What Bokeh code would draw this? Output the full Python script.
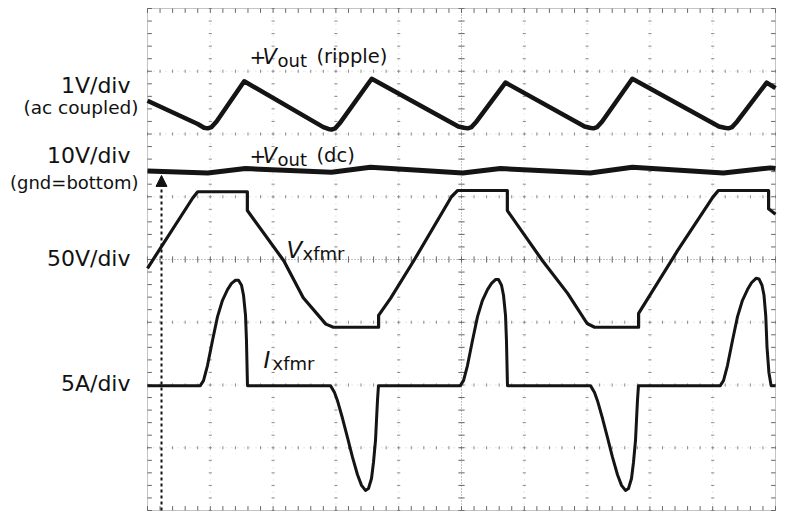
import numpy as np
from bokeh.plotting import figure
from bokeh.models import Label, Arrow, NormalHead
from bokeh.embed import file_html
from bokeh.resources import INLINE

# ---- trace data (time in divisions, amplitude in divisions; 10 x 8 graticule) ----
ripple_t = [0.00, 0.80, 0.90, 0.96, 1.02, 1.10, 1.54, 2.80, 2.88, 2.93, 2.99, 3.06, 3.57,
            4.95, 5.04, 5.10, 5.16, 5.24, 5.70, 6.96, 7.04, 7.10, 7.16, 7.24, 7.72,
            9.10, 9.19, 9.25, 9.31, 9.39, 9.86, 10.00]
ripple_v = [6.53, 6.16, 6.10, 6.09, 6.11, 6.20, 6.84, 6.11, 6.08, 6.07, 6.09, 6.17, 6.88,
            6.12, 6.10, 6.09, 6.11, 6.20, 6.82, 6.12, 6.10, 6.09, 6.11, 6.20, 6.88,
            6.12, 6.10, 6.09, 6.11, 6.20, 6.82, 6.73]

vdc_t = [0.00, 0.96, 1.56, 2.93, 3.55, 5.02, 5.62, 7.05, 7.72, 9.17, 9.92, 10.00]
vdc_v = [5.41, 5.38, 5.45, 5.39, 5.47, 5.38, 5.45, 5.38, 5.47, 5.38, 5.46, 5.45]

vx_t = [0.00, 0.72, 0.80, 1.59, 1.59, 2.17, 2.48, 2.84, 2.96, 3.68, 3.68, 3.87, 4.24, 4.84, 4.94,
        5.73, 5.73, 6.29, 6.69, 7.00, 7.12, 7.82, 7.82, 8.44, 9.00, 9.09, 9.89, 9.89, 10.00]
vx_v = [3.86, 4.98, 5.08, 5.08, 4.78, 3.98, 3.39, 2.97, 2.92, 2.92, 3.11, 3.38, 3.98, 5.00, 5.10,
        5.10, 4.78, 3.98, 3.46, 2.98, 2.92, 2.92, 3.14, 4.14, 4.99, 5.10, 5.10, 4.81, 4.72]

ix_t = [0.00, 0.84, 0.892, 0.955, 1.035, 1.115, 1.194, 1.274, 1.338, 1.401, 1.449, 1.497,
        1.529, 1.561, 1.576, 1.592,
        2.914, 2.978, 3.025, 3.105, 3.185, 3.264, 3.344, 3.408, 3.471, 3.519, 3.567,
        3.599, 3.631, 3.646, 3.662, 3.678,
        4.98, 5.032, 5.095, 5.175, 5.255, 5.334, 5.414, 5.478, 5.541, 5.589, 5.637,
        5.669, 5.701, 5.716, 5.732,
        7.054, 7.118, 7.165, 7.245, 7.325, 7.404, 7.484, 7.548, 7.611, 7.659, 7.707,
        7.739, 7.771, 7.786, 7.802, 7.818,
        9.12, 9.172, 9.235, 9.315, 9.395, 9.474, 9.554, 9.618, 9.690, 9.737, 9.785,
        9.817, 9.845, 9.865, 9.895, 9.93, 10.00]
ix_v = [1.99, 1.99, 2.07, 2.31, 2.71, 3.09, 3.35, 3.52, 3.62, 3.67, 3.67, 3.59,
        3.43, 3.11, 2.71, 1.99,
        1.99, 1.88, 1.75, 1.47, 1.16, 0.85, 0.57, 0.40, 0.32, 0.35, 0.51,
        0.77, 1.12, 1.43, 1.75, 1.99,
        1.99, 2.07, 2.31, 2.71, 3.09, 3.35, 3.52, 3.62, 3.68, 3.68, 3.59,
        3.43, 3.11, 2.71, 1.99,
        1.99, 1.88, 1.75, 1.47, 1.16, 0.85, 0.57, 0.40, 0.32, 0.35, 0.51,
        0.77, 1.12, 1.43, 1.75, 1.99,
        1.99, 2.07, 2.31, 2.71, 3.09, 3.35, 3.52, 3.63, 3.70, 3.69, 3.59,
        3.43, 3.10, 2.60, 2.20, 1.99, 1.99]

# ground marker (arrow) for the 10V/div channel
gnd_t = 0.223
gnd_from = 0.0
gnd_to = 5.34

# ---- layout (page pixel -> division mapping) ----
PXDIV_X = 62.8
PXDIV_Y = 62.75
W, H = 787, 517
x0 = -147 / PXDIV_X
x1 = x0 + W / PXDIV_X
y1 = 510 / PXDIV_Y
y0 = y1 - H / PXDIV_Y
TEXT_SHIFT = 8  # px, compensates label baseline placement

def X(px):
    return (px - 147) / PXDIV_X

def Y(py):
    return (510 - (py - TEXT_SHIFT)) / PXDIV_Y

p = figure(width=W, height=H, x_range=(x0, x1), y_range=(y0, y1),
           output_backend="svg", toolbar_location=None, min_border=0)
p.axis.visible = False
p.grid.visible = False
p.outline_line_color = None
p.background_fill_color = "white"
p.border_fill_color = "white"

GRID = "#8a8a8a"
ys = np.arange(0, 8.001, 0.2)
xs = np.arange(0, 10.001, 0.2)
# interior grid lines: faint dots + small marks every 0.2 div
for gx in [1, 2, 3, 4, 6, 7, 8, 9]:
    p.line([gx, gx], [0, 8], line_color="#cfcfcf", line_width=1, line_dash="1 5")
    p.segment(x0=[gx - 0.025] * len(ys), y0=ys, x1=[gx + 0.025] * len(ys), y1=ys,
              line_color=GRID, line_width=1)
for gy in [1, 2, 3, 5, 6, 7]:
    p.line([0, 10], [gy, gy], line_color="#cfcfcf", line_width=1, line_dash="1 5")
    p.segment(x0=xs, y0=[gy - 0.025] * len(xs), x1=xs, y1=[gy + 0.025] * len(xs),
              line_color=GRID, line_width=1)

# centre lines
p.line([5, 5], [0, 8], line_color="#8a8a8a", line_width=1, line_dash="1 2")
p.line([0, 10], [4, 4], line_color="#8a8a8a", line_width=1, line_dash="1 2")
p.segment(x0=[4.95] * len(ys), y0=ys, x1=[5.05] * len(ys), y1=ys, line_color="#666666", line_width=1)
p.segment(x0=xs, y0=[3.95] * len(xs), x1=xs, y1=[4.05] * len(xs), line_color="#666666", line_width=1)

# border
p.line([0, 10, 10, 0, 0], [0, 0, 8, 8, 0], line_color="#888888", line_width=1, line_dash="1 1")
p.segment(x0=xs, y0=[0] * len(xs), x1=xs, y1=[0.07] * len(xs), line_color="#666666", line_width=1)
p.segment(x0=xs, y0=[8] * len(xs), x1=xs, y1=[7.93] * len(xs), line_color="#666666", line_width=1)
p.segment(x0=[0] * len(ys), y0=ys, x1=[0.07] * len(ys), y1=ys, line_color="#666666", line_width=1)
p.segment(x0=[10] * len(ys), y0=ys, x1=[9.93] * len(ys), y1=ys, line_color="#666666", line_width=1)

# ground arrow
p.add_layout(Arrow(x_start=gnd_t, y_start=gnd_from, x_end=gnd_t, y_end=gnd_to,
                   line_color="#111111", line_width=2, line_dash="3 3",
                   end=NormalHead(size=11, fill_color="#111111", line_color="#111111")))

# traces
TR = "#141414"
p.line(ripple_t, ripple_v, line_color=TR, line_width=4.5, line_join="round")
p.line(vdc_t, vdc_v, line_color=TR, line_width=5, line_join="round")
p.line(vx_t, vx_v, line_color=TR, line_width=3.2, line_join="round")
p.line(ix_t, ix_v, line_color=TR, line_width=3, line_join="round")

FONT = "DejaVu Sans"
TXT = "#111111"

def lab(px, py, text, size, align="left", style="normal"):
    p.add_layout(Label(x=X(px), y=Y(py), text=text, text_font=FONT,
                       text_font_size=f"{size}px", text_font_style=style,
                       text_color=TXT, text_align=align, text_baseline="alphabetic"))

# left channel labels
lab(130, 93, "1V/div", 22, "right")
lab(138, 115, "(ac coupled)", 18.5, "right")
lab(130, 163, "10V/div", 22, "right")
lab(138, 190, "(gnd=bottom)", 18, "right")
lab(130, 266, "50V/div", 22, "right")
lab(130, 391, "5A/div", 22, "right")

# trace labels
lab(249, 64, "+", 20)
lab(262, 64, "V", 21, style="italic")
lab(277, 68, "out", 18)
lab(316, 64, "(ripple)", 19.5)

lab(249, 163, "+", 20)
lab(262, 163, "V", 21, style="italic")
lab(277, 167, "out", 18)
lab(316, 163, "(dc)", 19.5)

lab(286, 257, "V", 23, style="italic")
lab(302, 261, "xfmr", 18)

lab(263, 367, "I", 23, style="italic")
lab(272, 371, "xfmr", 18)

open("out.html", "w").write(file_html(p, INLINE))
